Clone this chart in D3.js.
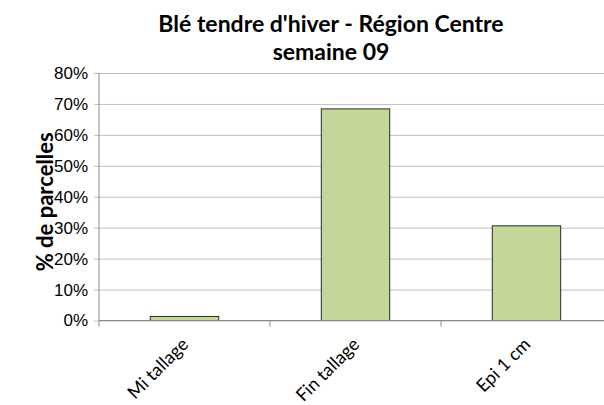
<!DOCTYPE html>
<html>
<head>
<meta charset="utf-8">
<script src="https://cdn.jsdelivr.net/npm/d3@7"></script>
<style>
  body { margin: 0; background: #fff; }
  svg { display: block; font-family: Lato, "Open Sans", sans-serif; }
</style>
</head>
<body>
<svg id="chart" width="604" height="405"></svg>
<script>
"use strict";

//// data
const stages = ["Mi tallage", "Fin tallage", "Epi 1 cm"];
const shares = [0.013, 0.684, 0.306];
const yTicks = [0, 0.1, 0.2, 0.3, 0.4, 0.5, 0.6, 0.7, 0.8];
const titleLines = ["Blé tendre d'hiver - Région Centre", "semaine 09"];

(function () {
    const svg = d3.select("#chart");
    const left = 99, right = 612, top = 73, bottom = 320.5;

    const x = d3.scaleBand().domain(stages).range([left, right]).paddingInner(0.6).paddingOuter(0.3);
    const xb = d3.scaleBand().domain(stages).range([left, right]);
    const y = d3.scaleLinear().domain([0, 0.8]).range([bottom, top]);

    //// gridlines + y ticks
    svg.append("g")
        .attr("transform", "translate(" + left + ",0)")
        .call(d3.axisLeft(y).tickValues(yTicks).tickFormat(d3.format(".0%"))
            .tickSize(-(right - left)).tickSizeOuter(0).tickPadding(11))
        .call(g => g.select(".domain").remove())
        .call(g => g.selectAll(".tick line").attr("stroke", "#c0c0c0").attr("x1", -5))
        .call(g => g.selectAll(".tick text")
            .attr("fill", "#000").style("font-size", "17px"));

    //// bars
    svg.append("g").selectAll("rect")
        .data(stages)
        .enter().append("rect")
            .attr("x", d => x(d))
            .attr("width", x.bandwidth())
            .attr("y", (d, i) => y(shares[i]))
            .attr("height", (d, i) => y(0) - y(shares[i]))
            .attr("fill", "#c4d79b")
            .attr("stroke", "#2a2a2a")
            .attr("stroke-width", 1);

    //// axes lines
    svg.append("line")
        .attr("x1", left).attr("x2", left).attr("y1", top).attr("y2", bottom)
        .attr("stroke", "#8a8a8a");
    svg.append("line")
        .attr("x1", left).attr("x2", right).attr("y1", bottom).attr("y2", bottom)
        .attr("stroke", "#8a8a8a");

    // category boundary ticks
    svg.append("g").selectAll("line")
        .data(stages)
        .enter().append("line")
            .attr("x1", d => xb(d)).attr("x2", d => xb(d))
            .attr("y1", bottom).attr("y2", bottom + 6)
            .attr("stroke", "#8a8a8a");

    //// category labels
    svg.append("g").selectAll("text")
        .data(stages)
        .enter().append("text")
            .attr("transform", d => "translate(" + (xb(d) + xb.bandwidth() / 2 + 5) + "," + (bottom + 25) + ") rotate(-45)")
            .attr("text-anchor", "end")
            .style("font-size", "18px")
            .attr("fill", "#000")
            .text(d => d);

    //// y title
    svg.append("text")
        .attr("transform", "translate(53," + ((top + bottom) / 2 + 5) + ") rotate(-90)")
        .attr("text-anchor", "middle")
        .style("font-size", "22px")
        .style("font-weight", "bold")
        .text("% de parcelles");

    //// chart title
    svg.append("g").selectAll("text")
        .data(titleLines)
        .enter().append("text")
            .attr("x", 331)
            .attr("y", (d, i) => 32 + i * 28)
            .attr("text-anchor", "middle")
            .style("font-size", "23px")
            .style("font-weight", "bold")
            .text(d => d);
})();
</script>
</body>
</html>
